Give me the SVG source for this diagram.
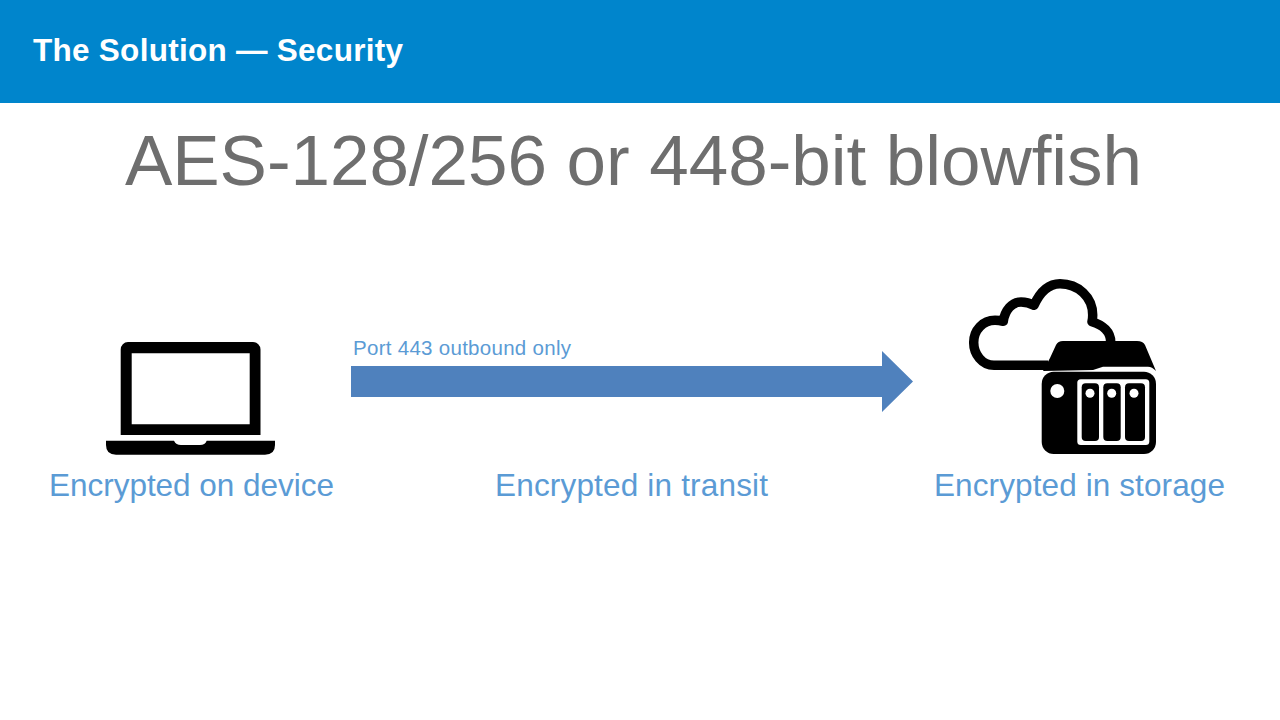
<svg xmlns="http://www.w3.org/2000/svg" width="1280" height="720" viewBox="0 0 1280 720">
<style>
text{font-family:"Liberation Sans",Arial,sans-serif}
.lab{font-size:31.500px;fill:#5b9bd5;text-anchor:middle}
.k{fill:#000}
.w{fill:#fff}
</style>
<rect width="1280" height="720" fill="#fff"/>
<g id="header"><rect width="1280" height="103" fill="#0085cc"/>
<text x="33" y="61" font-size="31.500" font-weight="700" fill="#fff" textLength="370">The Solution — Security</text></g>
<text id="heading" x="633.500" y="185" font-size="71" fill="#6e6e6e" text-anchor="middle" textLength="1017">AES-128/256 or 448-bit blowfish</text>
<g id="laptop">
<path class="k" fill-rule="evenodd" d="M128 342H253A7.500 7.500 0 0 1 260.500 349.500V435H120.700V349.500A7.500 7.500 0 0 1 128 342ZM131.700 353.300V424.300H249.700V353.300Z"/>
<path class="k" d="M106 440.700H174Q176 445 181 445H200Q205 445 206.700 440.700H275V445Q275 454.700 265 454.700H116Q106 454.700 106 445Z"/>
<text class="lab" x="191.500" y="496" textLength="285">Encrypted on device</text>
</g>
<g id="connectors">
<path id="arrow" fill="#4f81bd" d="M351 366H882V351L913 381.500L882 412V397H351Z"/>
<text x="353" y="355" font-size="20.500" fill="#5b9bd5" textLength="218">Port 443 outbound only</text>
<text class="lab" x="631.500" y="496" textLength="273">Encrypted in transit</text>
</g>
<g id="storage">
<path fill="none" stroke="#000" stroke-width="9.500" stroke-linejoin="round" d="M1048 365.300H994C982 365.300 973.700 354 973.700 342.500C973.700 330 983 320.300 995 320.300Q999 320.300 1003.300 321.300C1005 310 1012 302 1021 302Q1028 302 1034 305.300C1040 292 1048 283.700 1060 283.700C1078 283.700 1092.700 297 1092.700 315Q1092.700 319 1092 321.700C1103 325 1110.700 332 1110.700 342"/>
<path class="k" d="M1043 371L1050 358L1056 345Q1058 341 1063 341H1137Q1143 341 1145 345L1156 371Q1152 366.700 1148 366.700H1103L1093 370Z"/>
<rect class="k" x="1041.700" y="371.700" width="114.300" height="82.300" rx="12"/>
<circle class="w" cx="1057.300" cy="391" r="7"/>
<rect class="w" x="1077.300" y="379.300" width="72" height="65.700" rx="3.500"/>
<rect class="k" x="1081.700" y="383.300" width="17.300" height="57.700" rx="4"/>
<rect class="k" x="1103.300" y="383.300" width="17.400" height="57.700" rx="4"/>
<rect class="k" x="1125" y="383.300" width="20" height="57.700" rx="4"/>
<circle class="w" cx="1090" cy="393.300" r="4.500"/>
<circle class="w" cx="1111.700" cy="393.300" r="4.500"/>
<circle class="w" cx="1134" cy="393.300" r="4.500"/>
<text class="lab" x="1079.500" y="496" textLength="291">Encrypted in storage</text>
</g>
</svg>
